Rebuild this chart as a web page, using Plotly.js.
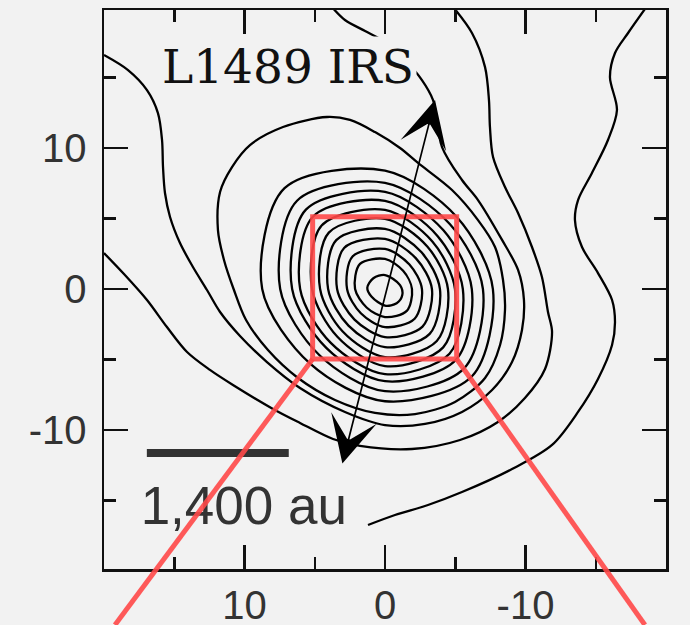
<!DOCTYPE html>
<html>
<head>
<meta charset="utf-8">
<script src="https://cdn.plot.ly/plotly-3.0.1.min.js"></script>
<style>
  html, body { margin: 0; padding: 0; background: #f2f2f2; }
  #chart { width: 690px; height: 625px; }
</style>
</head>
<body>
<div id="chart"></div>
<script>
// Offsets in arcsec (x increases to the east / left), contour paths of L1489 IRS

// axis ticks
const tickVals = [10, 0, -10];
const tickText = ['10', '0', '-10'];
const minorVals = [15, 5, -5, -15];

// innermost contour around the peak
const coreX = [0, -1.07, -1.23, -0.83, 0, 0.95, 1.26, 0.83, 0];
const coreY = [0.99, 0.28, -0.43, -1.01, -1.18, -0.55, 0.09, 0.76, 0.99];

// nested closed contours, from inside out (W, NW, N, NE, E, SE, S, SW, W)
const ringsX = [
  [2.13, 1.78, 0, -1.29, -1.92, -1.55, 0, 1.31, 2.13],
  [2.70, 2.31, 0, -1.74, -2.63, -2.11, 0, 1.72, 2.70],
  [3.41, 2.91, 0, -2.19, -3.34, -2.67, 0, 2.17, 3.41],
  [4.05, 3.47, 0, -2.60, -3.91, -3.18, 0, 2.60, 4.05],
  [4.62, 4.00, 0, -3.01, -4.48, -3.69, 0, 3.01, 4.62],
  [5.19, 4.51, 0, -3.37, -4.98, -4.14, 0, 3.39, 5.19],
  [6.04, 5.13, 0, -3.75, -5.54, -4.59, 0, 3.84, 6.04],
  [6.61, 5.63, 0, -4.16, -6.18, -5.04, 0, 4.18, 6.61],
  [7.46, 6.26, 0, -4.61, -6.97, -5.63, 0, 4.68, 7.46],
  [8.74, 7.15, 0, -5.11, -7.68, -6.19, 0, 5.31, 8.74]
];
const ringsY = [
  [0, 1.78, 2.13, 1.29, 0, -1.55, -1.99, -1.31, 0],
  [0, 2.31, 2.84, 1.74, 0, -2.11, -2.70, -1.72, 0],
  [0, 2.91, 3.55, 2.19, 0, -2.67, -3.41, -2.17, 0],
  [0, 3.47, 4.26, 2.60, 0, -3.18, -4.12, -2.60, 0],
  [0, 4.00, 4.98, 3.01, 0, -3.69, -4.83, -3.01, 0],
  [0, 4.51, 5.61, 3.37, 0, -4.14, -5.47, -3.39, 0],
  [0, 5.13, 6.25, 3.75, 0, -4.59, -6.04, -3.84, 0],
  [0, 5.63, 6.89, 4.16, 0, -5.04, -6.54, -4.18, 0],
  [0, 6.26, 7.53, 4.61, 0, -5.63, -7.25, -4.68, 0],
  [0, 7.15, 8.39, 5.11, 0, -6.19, -7.96, -5.31, 0]
];

// outermost closed contour
const outerRingX = [11.89, 11.74, 10.89, 9.61, 7.26, 4.13, 2.49, 0.71, -1.07, -2.35, -4.77, -6.62, -7.83, -8.40, -8.54, -8.19, -7.12, -4.98, -2.14, 0.71, 3.56, 6.19, 8.33, 9.89, 10.75, 11.46, 11.89];
const outerRingY = [4.18, 6.88, 8.65, 10.21, 11.49, 12.20, 11.99, 11.13, 10.00, 8.94, 7.02, 4.89, 2.98, 0.64, -1.49, -3.97, -6.31, -8.01, -8.87, -8.79, -7.87, -6.31, -4.33, -2.20, -0.07, 2.06, 4.18];

// open contour: enters at the north edge, wraps the core, leaves at the east edge
const openAX = [3.78, 2.85, 1.42, 0, -1.42, -2.63, -3.42, -4.06, -5.48, -6.62, -8.33, -9.47, -9.89, -9.75, -9.04, -7.62, -5.48, -2.85, 0, 2.85, 6.05, 8.40, 10.32, 11.74, 12.67, 13.67, 14.59, 15.30, 15.66, 15.80, 15.87, 16.16, 16.94, 18.29, 20.0];
const openAY = [20.0, 19.08, 18.30, 17.52, 16.24, 14.82, 13.40, 10.07, 7.73, 6.31, 3.48, 1.35, -0.78, -2.91, -5.18, -7.16, -8.72, -9.57, -9.65, -8.72, -7.02, -5.18, -3.33, -1.63, -0.07, 1.56, 3.26, 5.11, 6.81, 8.65, 10.57, 12.48, 14.11, 15.53, 16.60];

// open contour: east edge, under the core, up to the north edge
const openBX = [20.0, 18.51, 16.94, 15.52, 14.09, 12.46, 10.82, 7.97, 6.05, 3.70, 1.78, -1.92, -5.34, -8.04, -9.96, -11.39, -11.89, -11.60, -11.17, -10.46, -9.47, -8.54, -7.69, -7.47, -7.40, -7.12, -6.19, -4.85];
const openBY = [2.55, 0.99, -0.78, -2.70, -4.47, -5.74, -6.81, -8.51, -9.50, -10.64, -11.13, -11.35, -10.71, -9.43, -7.73, -5.67, -3.05, -1.63, 0.85, 2.98, 5.39, 7.23, 9.36, 11.49, 13.40, 15.74, 18.16, 20.0];

// wavy outer contour on the west side
const openCX = [-18.6, -17.30, -16.37, -16.01, -16.51, -15.87, -14.73, -13.74, -13.52, -14.02, -15.16, -16.16, -16.37, -16.16, -15.16, -13.74, -11.89, -9.04, -5.48, -3.06, -0.71, 1.21];
const openCY = [20.0, 18.16, 16.74, 15.04, 12.70, 10.57, 8.23, 6.31, 4.89, 2.98, 1.13, -0.78, -2.34, -3.97, -6.38, -8.72, -11.06, -12.77, -14.40, -15.32, -16.03, -16.74];

const X_RANGE = [20, -20];
const Y_RANGE = [-19.86, 19.79];

const lineStyle = { color: '#000', width: 2.3, shape: 'spline', smoothing: 0.9 };

function contour(xs, ys) {
  return { type: 'scatter', mode: 'lines', x: xs, y: ys, line: lineStyle, hoverinfo: 'skip' };
}

const traces = [contour(coreX, coreY)];
for (let i = 0; i < ringsX.length; i++) traces.push(contour(ringsX[i], ringsY[i]));
traces.push(contour(outerRingX, outerRingY));
traces.push(contour(openAX, openAY));
traces.push(contour(openBX, openBY));
traces.push(contour(openCX, openCY));

// scale bar label
traces.push({
  type: 'scatter', mode: 'text', x: [10.05], y: [-15.75], text: ['1,400 au'],
  textposition: 'middle center',
  textfont: { family: 'Liberation Sans, Arial, sans-serif', size: 53, color: '#333' },
  hoverinfo: 'skip'
});

// zoom box and the guide lines leaving it
const box = { x0: 5.15, x1: -5.1, y0: -4.96, y1: 5.13 };
const guideEnds = { left: 19.22, right: -18.5, paperY: -0.1 };
const toPaperY = v => (v - Y_RANGE[0]) / (Y_RANGE[1] - Y_RANGE[0]);
const red = 'rgba(255,72,72,0.9)';

const tickFont = { family: 'Liberation Sans, Arial, sans-serif', size: 40, color: '#333' };
const axisCommon = {
  tickmode: 'array', tickvals: tickVals, ticktext: tickText,
  ticks: 'inside', ticklen: 24, tickwidth: 2.5, tickcolor: '#111',
  showline: true, linecolor: '#111', linewidth: 2.5, mirror: 'allticks',
  showgrid: false, zeroline: false, fixedrange: true,
  minor: { tickmode: 'array', tickvals: minorVals, ticks: 'inside', ticklen: 12, tickwidth: 2.5, tickcolor: '#111', showgrid: false },
  tickfont: tickFont
};

const layout = {
  width: 690, height: 625,
  margin: { l: 104, r: 24, t: 10, b: 56, pad: 0 },
  paper_bgcolor: '#f2f2f2', plot_bgcolor: '#f2f2f2',
  showlegend: false,
  xaxis: Object.assign({}, axisCommon, { range: X_RANGE, ticklabelstandoff: -1 }),
  yaxis: Object.assign({}, axisCommon, { range: Y_RANGE, ticklabelstandoff: 7 }),
  shapes: [
    { type: 'line', xref: 'x', yref: 'y', x0: 16.95, x1: 6.85, y0: -11.63, y1: -11.63,
      line: { color: '#333', width: 8 } },
    { type: 'rect', xref: 'x', yref: 'y', x0: box.x0, x1: box.x1, y0: box.y0, y1: box.y1,
      line: { color: red, width: 5 } },
    { type: 'line', xref: 'x', yref: 'paper', x0: box.x0, y0: toPaperY(box.y0), x1: guideEnds.left, y1: guideEnds.paperY,
      line: { color: red, width: 5 } },
    { type: 'line', xref: 'x', yref: 'paper', x0: box.x1, y0: toPaperY(box.y0), x1: guideEnds.right, y1: guideEnds.paperY,
      line: { color: red, width: 5 } }
  ],
  annotations: [
    { xref: 'x', yref: 'y', x: 6.9, y: 15.8, text: 'L1489 IRS', showarrow: false,
      font: { family: 'DejaVu Serif, serif', size: 47, color: '#111' },
      bgcolor: '#f2f2f2', borderpad: 2 },
    // outflow axis, double-headed
    { xref: 'x', yref: 'y', axref: 'x', ayref: 'y', x: -3.56, y: 13.40, ax: 3.06, ay: -12.48,
      text: '', showarrow: true, arrowside: 'end+start', arrowhead: 3, startarrowhead: 3,
      arrowsize: 4.6, startarrowsize: 4.6, arrowwidth: 1.7, arrowcolor: '#000',
      standoff: 0, startstandoff: 0 }
  ]
};

Plotly.newPlot('chart', traces, layout, { staticPlot: true, displayModeBar: false });
</script>
</body>
</html>
